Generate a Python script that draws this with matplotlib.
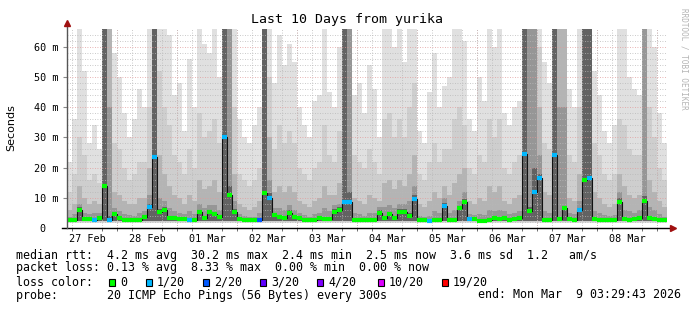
import numpy as np
import matplotlib
matplotlib.use("Agg")
import matplotlib.pyplot as plt
from matplotlib.patches import Rectangle

# ── Data: 2 h bins starting 27 Feb 04:00, values in ms ────────────────────────
median_ms = [
    2.6, 2.7, 6.0, 2.9, 3.1, 2.6, 3.4, 14.0, 2.7, 4.6,
    3.2, 2.8, 2.7, 2.6, 2.8, 3.6, 7.0, 23.5, 5.4, 6.0,
    3.3, 3.2, 3.0, 2.9, 2.6, 2.7, 5.3, 3.3, 5.3, 4.5,
    3.8, 30.2, 11.0, 5.4, 3.0, 2.7, 2.6, 2.6, 2.7, 11.7,
    10.0, 4.3, 3.6, 3.3, 5.0, 3.5, 3.3, 2.7, 2.6, 2.8,
    3.3, 2.9, 3.0, 5.4, 6.0, 8.6, 8.6, 2.8, 2.7, 2.6,
    2.7, 2.8, 5.0, 3.3, 4.5, 3.3, 5.4, 5.4, 4.0, 9.6,
    2.6, 2.5, 2.3, 2.6, 2.8, 7.3, 2.8, 2.7, 6.6, 8.7,
    2.9, 2.9, 2.4, 2.3, 2.5, 3.2, 3.0, 3.4, 2.8, 2.9,
    3.4, 24.5, 5.5, 12.0, 16.5, 2.8, 2.7, 24.0, 3.1, 6.5,
    2.9, 2.8, 5.8, 16.0, 16.6, 2.9, 2.8, 2.7, 2.8, 2.7,
    8.7, 2.9, 2.8, 3.0, 3.4, 9.0, 3.2, 3.1, 2.7, 2.6,
]
loss_pings = [
    0, 0, 0, 0, 0, 1, 0, 0, 1, 0,
    0, 0, 0, 0, 0, 0, 1, 1, 0, 0,
    0, 0, 0, 0, 1, 0, 0, 0, 0, 0,
    0, 1, 0, 0, 0, 0, 0, 0, 2, 0,
    1, 0, 0, 0, 0, 0, 0, 0, 0, 0,
    0, 0, 0, 0, 0, 1, 1, 0, 0, 0,
    0, 0, 0, 0, 0, 0, 0, 0, 0, 1,
    0, 0, 1, 0, 0, 1, 0, 0, 0, 0,
    1, 0, 0, 0, 0, 0, 0, 0, 0, 0,
    0, 1, 0, 1, 1, 0, 0, 1, 0, 0,
    0, 0, 1, 0, 1, 0, 0, 0, 0, 0,
    0, 0, 0, 0, 0, 0, 0, 0, 0, 0,
]
smoke_p95 = [
    22, 36, 66, 52, 28, 34, 26, 66, 66, 58,
    50, 38, 30, 36, 46, 40, 66, 66, 66, 66,
    64, 44, 48, 32, 56, 40, 66, 61, 58, 66,
    50, 66, 66, 66, 36, 30, 28, 34, 40, 66,
    66, 48, 64, 54, 61, 55, 40, 34, 30, 42,
    44, 66, 45, 40, 60, 66, 66, 44, 48, 38,
    54, 46, 30, 66, 66, 60, 66, 55, 66, 66,
    32, 28, 45, 58, 40, 47, 50, 66, 66, 62,
    36, 32, 50, 42, 66, 60, 66, 38, 34, 40,
    42, 66, 66, 66, 66, 55, 48, 66, 66, 60,
    46, 40, 66, 66, 66, 52, 44, 32, 28, 34,
    66, 66, 50, 46, 44, 66, 66, 60, 38, 28,
]
smoke_p85 = [
    12, 18, 30, 24, 16, 18, 15, 66, 55, 28,
    26, 20, 16, 18, 22, 22, 40, 66, 52, 40,
    34, 24, 22, 18, 26, 20, 38, 30, 32, 36,
    28, 66, 66, 40, 18, 16, 14, 16, 20, 66,
    50, 26, 34, 28, 32, 28, 20, 18, 16, 20,
    22, 34, 24, 22, 32, 66, 66, 24, 22, 20,
    26, 22, 18, 36, 38, 30, 36, 30, 40, 48,
    18, 16, 22, 28, 22, 26, 26, 36, 40, 34,
    20, 18, 24, 22, 36, 30, 36, 20, 18, 22,
    24, 66, 66, 66, 60, 28, 26, 66, 66, 66,
    24, 22, 40, 66, 66, 28, 24, 18, 16, 18,
    36, 34, 26, 24, 24, 66, 40, 30, 20, 16,
]
smoke_p75 = [
    6, 8, 14, 10, 8, 9, 8, 66, 66, 12,
    11, 9, 8, 8, 10, 10, 20, 66, 24, 18,
    14, 11, 10, 8, 11, 9, 16, 13, 14, 16,
    12, 66, 66, 18, 8, 7, 6, 7, 9, 66,
    30, 12, 14, 12, 14, 12, 9, 8, 7, 9,
    10, 14, 11, 11, 15, 66, 66, 10, 9, 8,
    11, 10, 9, 15, 16, 13, 16, 14, 18, 24,
    8, 7, 9, 12, 10, 14, 11, 15, 18, 20,
    9, 8, 10, 9, 14, 12, 14, 9, 8, 10,
    11, 66, 66, 66, 40, 12, 11, 66, 66, 66,
    10, 9, 18, 66, 66, 12, 10, 8, 7, 8,
    18, 14, 11, 10, 11, 66, 16, 12, 9, 7,
]
smoke_p65 = [
    3.8, 4.5, 8, 5, 4.5, 5, 5, 66, 40, 6.5,
    5.5, 4.5, 4.2, 4, 5, 5.5, 11, 66, 10, 9,
    6.5, 5.5, 5, 4.5, 5.5, 4.5, 8, 6.5, 7.5, 7.5,
    6, 66, 66, 9, 4.5, 4, 3.6, 3.8, 5, 66,
    16, 6.5, 6.5, 6, 7.5, 6, 5, 4.2, 3.8, 4.5,
    5, 6.5, 5.5, 7.5, 8, 66, 66, 4.8, 4.5, 4,
    5, 5, 7, 7, 7.5, 6.5, 8, 8, 9, 14,
    4, 3.8, 4, 5.5, 5, 10, 5, 6, 9, 12,
    4.5, 4.2, 4.5, 4.2, 6, 5.5, 6, 5.5, 4.5, 5,
    5.5, 66, 66, 66, 24, 5.5, 5, 66, 40, 40,
    5, 4.5, 9, 66, 66, 5.5, 4.8, 4.2, 4, 4.2,
    12, 6, 5.5, 5, 6, 66, 7, 6, 4.5, 3.8,
]
smoke_p55 = [
    3.0, 3.2, 6.8, 3.4, 3.5, 3.2, 4.0, 66, 4.0, 5.2,
    3.8, 3.3, 3.2, 3.1, 3.4, 4.2, 8, 66, 6.2, 6.8,
    4.0, 3.8, 3.6, 3.4, 3.2, 3.3, 6.0, 4.0, 6.0, 5.2,
    4.4, 66, 14, 6.2, 3.6, 3.3, 3.1, 3.1, 3.3, 66,
    11.5, 5.0, 4.3, 4.0, 5.8, 4.2, 4.0, 3.3, 3.1, 3.4,
    4.0, 3.6, 3.7, 6.2, 6.8, 66, 12, 3.4, 3.3, 3.1,
    3.3, 3.4, 5.8, 4.0, 5.2, 4.0, 6.2, 6.2, 4.8, 11,
    3.1, 3.0, 2.8, 3.2, 3.4, 8.2, 3.4, 3.3, 7.4, 9.6,
    3.5, 3.5, 2.9, 2.8, 3.0, 3.8, 3.6, 4.0, 3.4, 3.5,
    4.0, 66, 7, 20, 18, 3.4, 3.3, 66, 3.8, 7.2,
    3.5, 3.4, 6.5, 66, 66, 3.5, 3.4, 3.3, 3.4, 3.3,
    10, 3.5, 3.4, 3.6, 4.0, 10.5, 3.8, 3.7, 3.3, 3.1,
]

day_labels = ["27 Feb", "28 Feb", "01 Mar", "02 Mar", "03 Mar",
              "04 Mar", "05 Mar", "06 Mar", "07 Mar", "08 Mar"]
y_tick_labels = ["0  ", "10 m", "20 m", "30 m", "40 m", "50 m", "60 m"]
loss_steps = [0, 1, 2, 3, 4, 10, 19]
loss_step_labels = ["0", "1/20", "2/20", "3/20", "4/20", "10/20", "19/20"]
LOSS_COLORS = {0: "#00ff00", 1: "#00b8ff", 2: "#0059ff", 3: "#5e00ff",
               4: "#7e00ff", 10: "#dd00ff", 19: "#ff0000"}

# ── Figure ────────────────────────────────────────────────────────────────────
W, H = 697, 310
MONO = "DejaVu Sans Mono"
fig = plt.figure(figsize=(W / 100, H / 100), dpi=100)
fig.patch.set_facecolor("white")
ax = fig.add_axes([67 / W, 82 / H, 600 / W, 200 / H])

t = np.arange(4, 244, 2)  # hours since 27 Feb 00:00
bands = [(smoke_p95, 1.6, "#e0e0e0"), (smoke_p85, 2.0, "#cecece"),
         (smoke_p75, 2.3, "#b4b4b4"), (smoke_p65, 2.4, "#969696"),
         (smoke_p55, 2.4, "#626262")]
for top, base, col in bands:
    ax.bar(t, np.array(top) - base, bottom=base, width=2, align="edge",
           color=col, linewidth=0, zorder=1)

med = np.array(median_ms)
ax.step(np.append(t, 244), np.append(med, med[-1]), where="post",
        color="#111111", lw=0.8, zorder=3)
ax.hlines(med, t, t + 2, colors=[LOSS_COLORS[l] for l in loss_pings],
          lw=3, zorder=4)

ax.set_xlim(4, 244)
ax.set_ylim(0, 66.2)

# grid
ax.set_xticks(np.arange(12, 240, 24))
ax.set_xticklabels(day_labels, fontfamily=MONO, fontsize=7.3)
ax.set_xticks(np.arange(6, 244, 6), minor=True)
ax.set_yticks(np.arange(0, 61, 10))
ax.set_yticklabels(y_tick_labels, fontfamily=MONO, fontsize=7.3)
ax.set_yticks(np.arange(0, 66, 2), minor=True)
ax.tick_params(axis="x", which="major", length=0, pad=4)
ax.tick_params(axis="x", which="minor", length=2, color="#555555")
ax.tick_params(axis="y", which="major", length=3, color="#888888", pad=3)
ax.tick_params(axis="y", which="minor", length=0)
ax.set_axisbelow(False)
grey_dots = dict(color="#b8b8b8", lw=0.6, ls=(0, (1, 2)), zorder=2)
red_dots = dict(color="#e29a9a", lw=0.6, ls=(0, (1, 2)), zorder=2.1)
ax.xaxis.grid(True, which="minor", **grey_dots)
ax.yaxis.grid(True, which="minor", **grey_dots)
ax.yaxis.grid(True, which="major", **red_dots)
ax.vlines(np.arange(24, 244, 24), 0, 66.2, **red_dots)

for s in ["top", "right", "left", "bottom"]:
    ax.spines[s].set_visible(False)
ax.plot([-0.008, 1.008], [0, 0], transform=ax.transAxes, color="black",
        lw=1, clip_on=False, zorder=5)
ax.plot([0, 0], [0, 1.02], transform=ax.transAxes, color="#555555",
        lw=1, clip_on=False, zorder=5)
ax.plot(1.01, 0, ">", transform=ax.transAxes, color="#a01010", ms=4,
        clip_on=False, zorder=6)
ax.plot(0, 1.025, "^", transform=ax.transAxes, color="#a01010", ms=4,
        clip_on=False, zorder=6)

# texts
fig.text(347 / W, 1 - 20 / H, "Last 10 Days from yurika", ha="center",
         va="center", fontfamily=MONO, fontsize=9.5)
fig.text(11 / W, 1 - 128 / H, "Seconds", rotation=90, ha="center",
         va="center", fontfamily="DejaVu Sans", fontsize=8)
fig.text(684 / W, 1 - 59 / H, "RRDTOOL / TOBI OETIKER", rotation=-90,
         ha="center", va="center", fontfamily=MONO, fontsize=5.5,
         color="#b4b4b4")

rows = [
    "median rtt:  4.2 ms avg  30.2 ms max  2.4 ms min  2.5 ms now  3.6 ms sd  1.2   am/s",
    "packet loss: 0.13 % avg  8.33 % max  0.00 % min  0.00 % now",
    "loss color:",
    "probe:       20 ICMP Echo Pings (56 Bytes) every 300s",
]
row_y = [255, 268, 282, 295]
for txt, y in zip(rows, row_y):
    fig.text(16 / W, 1 - y / H, txt, ha="left", va="center",
             fontfamily=MONO, fontsize=8.4)
fig.text(478 / W, 1 - 295 / H, "end: Mon Mar  9 03:29:43 2026", ha="left",
         va="center", fontfamily=MONO, fontsize=8.4)

box_x = [109, 146, 203, 260, 317, 378, 442]
for bx, step, lab in zip(box_x, loss_steps, loss_step_labels):
    fig.patches.append(Rectangle((bx / W, 1 - 286 / H), 6 / W, 7 / H,
                                 transform=fig.transFigure,
                                 facecolor=LOSS_COLORS[step],
                                 edgecolor="black", lw=0.8))
    fig.text((bx + 11) / W, 1 - 282 / H, lab, ha="left", va="center",
             fontfamily=MONO, fontsize=8.4)

fig.savefig("out.png", dpi=100)
